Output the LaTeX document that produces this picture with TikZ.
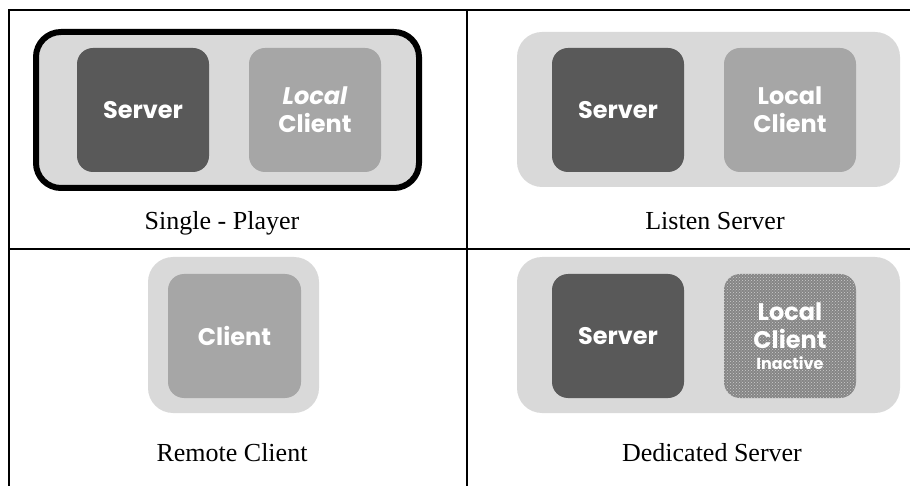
\documentclass[tikz,border=0pt]{standalone}
\usepackage{fontspec}
\setmainfont{Liberation Serif}
\newfontfamily\boxfont{Poppins}
\usetikzlibrary{patterns}
\definecolor{panelgray}{HTML}{D9D9D9}
\definecolor{servergray}{HTML}{595959}
\definecolor{clientgray}{HTML}{A6A6A6}
\begin{document}
\begin{tikzpicture}
		[x=1pt, y=-1pt,
		panel/.style={fill=panelgray, rounded corners=25pt, inner sep=0pt},
		box/.style={rounded corners=16pt, minimum width=132pt, minimum height=124pt, inner sep=0pt,
			align=center, text=white, font=\boxfont\bfseries\fontsize{24}{28}\selectfont},
		serverbox/.style={box, fill=servergray},
		clientbox/.style={box, fill=clientgray},
		caption/.style={anchor=base, font=\fontsize{26}{30}\selectfont},
		]

		\useasboundingbox (0,0) rectangle (910,486);
		\draw[line width=2pt] (9,486) -- (9,10) -- (910,10);
		\draw[line width=2pt] (467,10) -- (467,486);
		\draw[line width=2pt] (9,249) -- (910,249);

		% Single - Player
		\node[panel, draw=black, line width=6pt, minimum width=383pt, minimum height=156pt] (single) at (227.5,110) {};
		\node[serverbox] (single server) at (143,110) {Server};
		\node[clientbox] (single client) at (315,110) {{\itshape Local}\\Client};
		\node[caption] (single label) at (222,230) {Single - Player};

		% Listen Server
		\node[panel, minimum width=383pt, minimum height=155pt] (listen) at (708.5,109.5) {};
		\node[serverbox] (listen server) at (618,110) {Server};
		\node[clientbox] (listen client) at (790,110) {Local\\Client};
		\node[caption] (listen label) at (715,230) {Listen Server};

		% Remote Client
		\node[panel, minimum width=171pt, minimum height=156pt] (remote) at (233.5,335) {};
		\node[clientbox, minimum width=133pt] (remote client) at (234.5,336) {Client};
		\node[caption] (remote label) at (232,461) {Remote Client};

		% Dedicated Server
		\node[panel, minimum width=383pt, minimum height=156pt] (dedicated) at (708.5,335) {};
		\node[serverbox] (dedicated server) at (618,336) {Server};
		\node[box, fill=clientgray!80!black, postaction={pattern=crosshatch dots, pattern color=clientgray!55!white}] (dedicated client) at (790,336)
			{Local\\Client\\[-7pt]{\fontsize{16}{18}\selectfont Inactive}};
		\node[caption] (dedicated label) at (712,461) {Dedicated Server};
	\end{tikzpicture}
\end{document}
